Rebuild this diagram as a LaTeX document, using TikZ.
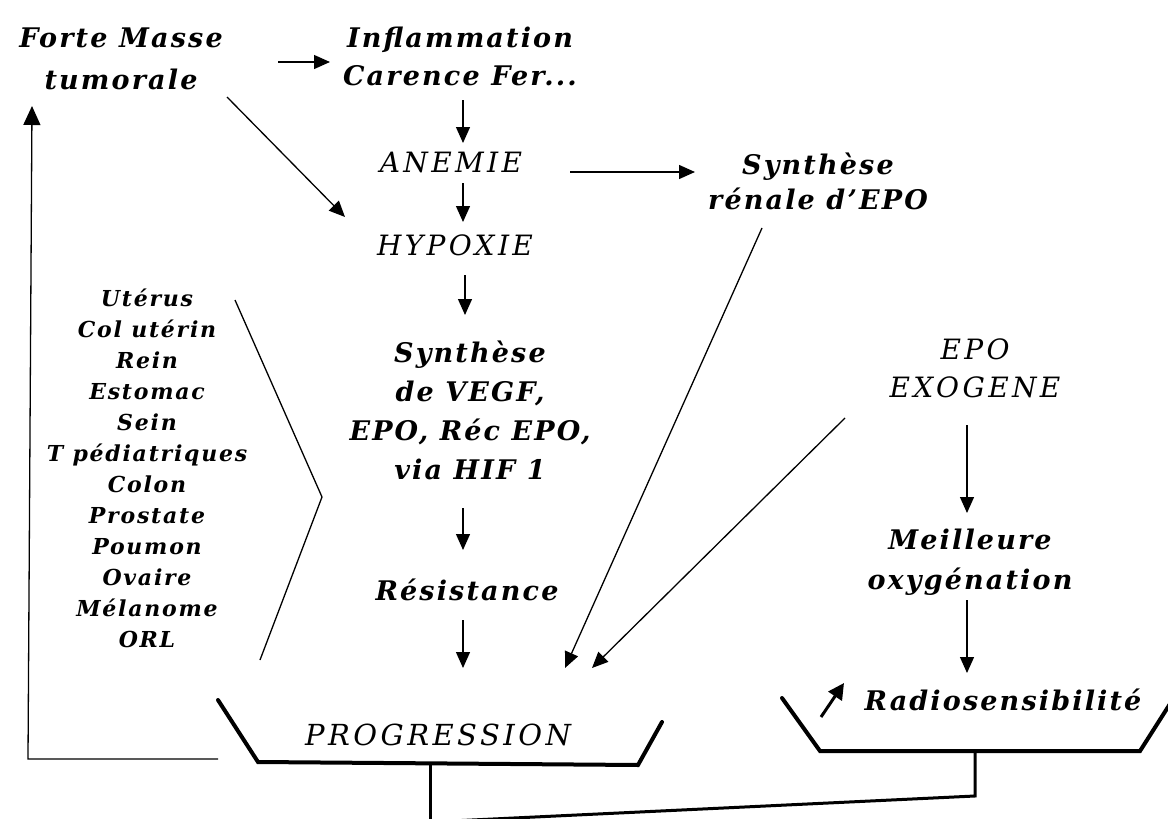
\documentclass[tikz,border=0pt]{standalone}
\usepackage{fontspec}
\usetikzlibrary{arrows.meta}
\newfontfamily\dfont{DejaVu Serif}[LetterSpace=8]
\newfontfamily\dcaps{DejaVu Serif}[LetterSpace=12]
\begin{document}
\begin{tikzpicture}[x=1pt,y=-1pt,
  lbl/.style={font=\dfont\bfseries\itshape\fontsize{27}{40}\selectfont, align=center, inner sep=0pt},
  caps/.style={font=\dcaps\itshape\fontsize{28}{40}\selectfont, align=center, inner sep=0pt},
  organ/.style={font=\dfont\bfseries\itshape\fontsize{22}{31}\selectfont, align=center, inner sep=0pt},
  arr/.style={-{Triangle[length=16pt,width=14pt]}, line width=1.3pt},
  plain/.style={line width=1.3pt},
  beam/.style={line width=4pt, line join=miter, line cap=round}]
\useasboundingbox (0,0) rectangle (1168,819);
\fill[white] (0,0) rectangle (1168,819);

% labels
\node[lbl, font=\dfont\bfseries\itshape\fontsize{27}{42}\selectfont] (forte) at (121,59) {Forte Masse\\tumorale};
\node[lbl, font=\dfont\bfseries\itshape\fontsize{27}{38}\selectfont] (inflam) at (460,56) {Inflammation\\Carence Fer...};
\node[caps] (anemie) at (451,162) {ANEMIE};
\node[caps] (hypoxie) at (455,245) {HYPOXIE};
\node[lbl, font=\dfont\bfseries\itshape\fontsize{27}{35}\selectfont] (renal) at (818,181) {Synthèse\\rénale d’EPO};
\node[lbl, font=\dfont\bfseries\itshape\fontsize{27}{39}\selectfont] (vegf) at (470,410) {Synthèse\\de VEGF,\\EPO, Réc EPO,\\via HIF 1};
\node[lbl] (resist) at (467,590) {Résistance};
\node[caps, font=\dcaps\itshape\fontsize{29}{40}\selectfont] (prog) at (438,735) {PROGRESSION};
\node[organ] (organs) at (147,468) {Utérus\\Col utérin\\Rein\\Estomac\\Sein\\T pédiatriques\\Colon\\Prostate\\Poumon\\Ovaire\\Mélanome\\ORL};
\node[caps, font=\dcaps\itshape\fontsize{28}{38}\selectfont] (exo) at (975,368) {EPO\\EXOGENE};
\node[lbl] (meil) at (970,562) {Meilleure\\oxygénation};
\node[lbl] (radio) at (1003,700) {Radiosensibilité};

% vertical chain
\draw[arr] ([shift={(3,44)}]inflam.center) -- ([shift={(12,-19)}]anemie.center);
\draw[arr] ([shift={(12,21)}]anemie.center) -- ([shift={(8,-23)}]hypoxie.center);
\draw[arr] ([shift={(10,30)}]hypoxie.center) -- ([shift={(-5,-95)}]vegf.center);
\draw[arr] ([shift={(-7,98)}]vegf.center) -- ([shift={(-4,-40)}]resist.center);
\draw[arr] ([shift={(-4,30)}]resist.center) -- ([shift={(25,-67)}]prog.center);

% side connectors
\draw[arr] ([shift={(157,3)}]forte.center) -- ([shift={(-130,6)}]inflam.center);
\draw[arr] ([shift={(106,38)}]forte.center) -- ([shift={(-110,-28)}]hypoxie.center);
\draw[arr] ([shift={(119,10)}]anemie.center) -- ([shift={(-123,-9)}]renal.center);
\draw[arr] ([shift={(-56,47)}]renal.center) -- ([shift={(127,-67)}]prog.center);
\draw[arr] ([shift={(-130,50)}]exo.center) -- ([shift={(154,-67)}]prog.center);
\draw[arr] ([shift={(-8,57)}]exo.center) -- ([shift={(-3,-49)}]meil.center);
\draw[arr] ([shift={(-3,38)}]meil.center) -- ([shift={(-36,-27)}]radio.center);

% chevron grouping the tumour sites
\draw[plain] ([shift={(88,-168)}]organs.center) -- ([shift={(175,29)}]organs.center) -- ([shift={(113,192)}]organs.center);

% feedback loop back to the tumour mass
\draw[-{Triangle[length=19pt,width=17pt]}, line width=1.3pt] ([shift={(-220,24)}]prog.center) -- ([shift={(-410,24)}]prog.center) -- ([shift={(-89,47)}]forte.center);

% the two pans of the balance
\draw[beam] ([shift={(-220,-35)}]prog.center) -- ([shift={(-180,27)}]prog.center) -- ([shift={(200,30)}]prog.center) -- ([shift={(224,-13)}]prog.center);
\draw[beam] ([shift={(-221,-2)}]radio.center) -- ([shift={(-183,51)}]radio.center) -- ([shift={(137,51)}]radio.center) -- ([shift={(172,-4)}]radio.center);
\draw[line width=3pt] ([shift={(-8,30)}]prog.center) -- ([shift={(-8,95)}]prog.center);
\draw[line width=3pt] ([shift={(-28,51)}]radio.center) -- ([shift={(-28,96)}]radio.center) -- ([shift={(-573,122)}]radio.center);

% increase marker
\draw[-{Triangle[length=16pt,width=16pt]}, line width=3pt] ([shift={(-182,17)}]radio.center) -- ([shift={(-159,-17)}]radio.center);
\end{tikzpicture}
\end{document}
